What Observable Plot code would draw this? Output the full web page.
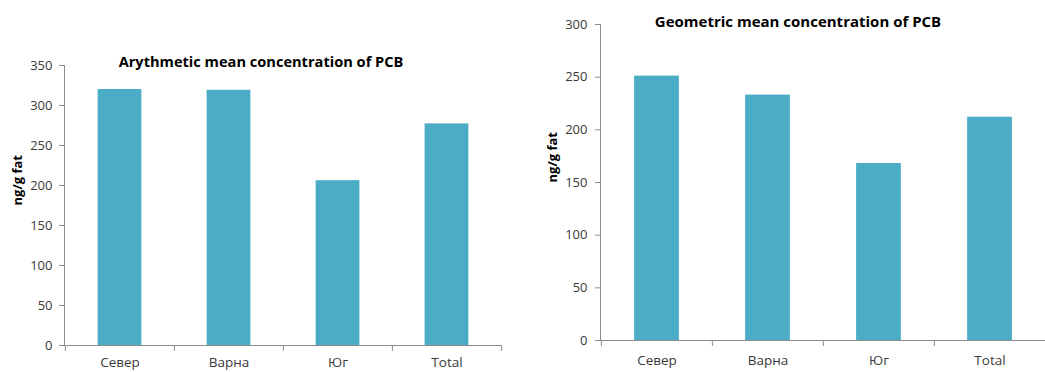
<!DOCTYPE html>
<html><head><meta charset="utf-8">
<script src="https://cdn.jsdelivr.net/npm/d3@7"></script>
<script src="https://cdn.jsdelivr.net/npm/@observablehq/plot@0.6"></script>
<style>
body{margin:0;background:#fff;}
#wrap{position:relative;width:1045px;height:372px;overflow:hidden;background:#fff;}
#wrap svg{position:absolute;top:0;}
</style></head><body><div id="wrap"></div>
<script>
const categories = ["Север", "Варна", "Юг", "Total"];
const arithmeticMean = [320, 319, 206, 277];
const geometricMean = [251, 233, 168, 212];
const leftTicks = [0, 50, 100, 150, 200, 250, 300, 350];
const rightTicks = [0, 50, 100, 150, 200, 250, 300];
const leftTitle = "Arythmetic mean concentration of PCB";
const rightTitle = "Geometric mean concentration of PCB";
const yLabel = "ng/g fat";

const BAR = "#4BACC6", AXIS = "#8C8C8C", TEXT = "#3A3A3A";

function chart(o) {
  const data = categories.map((c, i) => ({cat: c, value: o.values[i]}));
  const step = (o.width - o.ml - o.mr) / categories.length;
  const inset = (step - o.barW) / 2;
  const svg = Plot.plot({
    width: o.width, height: 372,
    marginLeft: o.ml, marginRight: o.mr, marginTop: o.mt, marginBottom: o.mb,
    style: {fontFamily: "Open Sans", fontSize: "13px", color: TEXT, background: "white", overflow: "visible"},
    x: {domain: categories, padding: 0},
    y: {domain: [0, o.ticks[o.ticks.length - 1]]},
    marks: [
      Plot.barY(data, {x: "cat", y: "value", fill: BAR, insetLeft: inset, insetRight: inset}),
      Plot.ruleY([0], {stroke: AXIS}),
      Plot.frame({anchor: "left", stroke: AXIS}),
      Plot.ruleX(categories, {x: d => d, dx: -step / 2, y1: 0, y2: 0, insetBottom: -6, stroke: AXIS}),
      Plot.ruleX(categories.slice(-1), {x: d => d, dx: step / 2, y1: 0, y2: 0, insetBottom: -6, stroke: AXIS}),
      Plot.axisY({ticks: o.ticks, tickSize: 5, tickPadding: o.tp, stroke: AXIS, label: null, fontSize: 13}),
      Plot.axisX({tickSize: 0, tickPadding: o.xpad, label: null, fontSize: 13.5}),
      Plot.text([yLabel], {frameAnchor: "left", rotate: -90, dx: o.labelDx, fontWeight: "bold", fontSize: 13, fill: "black"}),
      Plot.text([o.title], {frameAnchor: "top", lineAnchor: "middle", dx: o.titleDx, dy: o.titleDy, fontWeight: "bold", fontSize: o.titleSize, fill: "black"})
    ]
  });
  svg.style.left = o.left + "px";
  document.getElementById("wrap").appendChild(svg);
}

chart({left: 0, width: 520, ml: 64, mr: 19, mt: 65, mb: 27, barW: 44, values: arithmeticMean, ticks: leftTicks,
       tp: 7, xpad: 12, labelDx: -47, title: leftTitle, titleSize: 14.6, titleDx: -22, titleDy: -3});
chart({left: 520, width: 525, ml: 80, mr: 0, mt: 24, mb: 32, barW: 45, values: geometricMean, ticks: rightTicks,
       tp: 8, xpad: 15, labelDx: -48, title: rightTitle, titleSize: 15, titleDx: -25, titleDy: -2});
</script></body></html>
